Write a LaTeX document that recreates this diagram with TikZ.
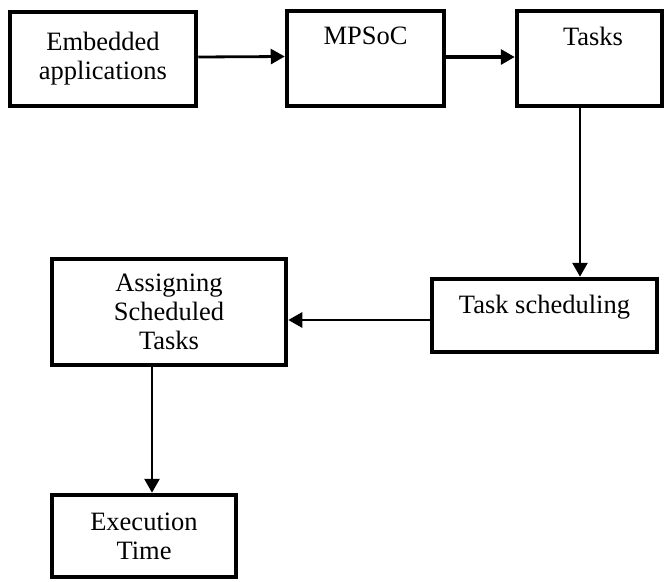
\documentclass[tikz,border=0pt]{standalone}
\usepackage{fontspec}
\setmainfont{Liberation Serif}
\usetikzlibrary{positioning,arrows.meta}

\begin{document}
\begin{tikzpicture}[x=1pt, y=-1pt,
        blk/.style={draw, line width=4.5pt, inner sep=0pt, align=center,
          font=\fontsize{26.5}{29}\selectfont},
        txt/.style={inner sep=0pt, align=center, font=\fontsize{26.5}{29}\selectfont},
        arr/.style={-{Triangle[length=14pt,width=15pt]}, line width=2.8pt}]
        \useasboundingbox (0,0) rectangle (666,581);
        \node[blk, minimum width=186pt, minimum height=94pt] (emb) at (103,59) {Embedded\\applications};
        \node[blk, minimum width=157pt, minimum height=95pt] (mpsoc) at (365.5,58.5) {};
        \node[blk, minimum width=145pt, minimum height=95pt] (tasks) at (589.5,58.5) {};
        \node[blk, minimum width=225pt, minimum height=73pt] (sched) at (544.5,315.5) {};
        \node[blk, minimum width=234pt, minimum height=106pt] (assign) at (169,312) {Assigning\\Scheduled\\Tasks};
        \node[blk, minimum width=184pt, minimum height=82pt] (exec) at (144,536) {Execution\\Time};
        \node[txt, below=18.5pt of mpsoc.north] (mpsoc-t) {MPSoC};
        \node[txt, below=18.5pt of tasks.north, xshift=3.5pt] (tasks-t) {Tasks};
        \node[txt, below=18pt of sched.north] (sched-t) {Task scheduling};
        \draw[arr] ([yshift=2pt]emb.east) -- ([yshift=2pt]mpsoc.west);
        \draw[arr, line width=3.3pt] ([yshift=1.5pt]mpsoc.east) -- ([yshift=1.5pt]tasks.west);
        \draw[arr] ([xshift=-9.5pt]tasks.south) -- ([xshift=-9.5pt]tasks.south |- sched.north);
        \draw[arr] ([yshift=-4.5pt]sched.west) -- ([yshift=-4.5pt]sched.west -| assign.east);
        \draw[arr] ([xshift=-17pt]assign.south) -- ([xshift=-17pt]assign.south |- exec.north);
      \end{tikzpicture}
\end{document}
